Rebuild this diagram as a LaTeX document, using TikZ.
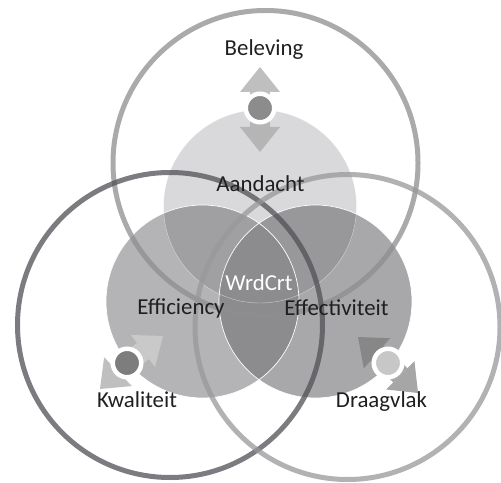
\documentclass[tikz,border=0pt]{standalone}
\usepackage{fontspec}
\setmainfont{Carlito}
\usetikzlibrary{arrows.meta}

\definecolor{aandacht}{RGB}{217,217,219}
\definecolor{efficiency}{RGB}{180,180,183}
\definecolor{effectiviteit}{RGB}{168,168,171}
\definecolor{topleft}{RGB}{160,160,163}
\definecolor{topright}{RGB}{152,152,155}
\definecolor{wrdcrt}{RGB}{140,140,143}
\definecolor{ringtop}{RGB}{142,142,145}
\definecolor{ringleft}{RGB}{80,80,86}
\definecolor{ringright}{RGB}{152,152,155}

\tikzset{
	ring/.style={line width=0.1cm, draw opacity=0.75},
	knob/.style={circle, draw=white, line width=0.09cm, minimum size=0.57cm, inner sep=0pt},
	blockarrow/.style={line width=0.4cm, -{Triangle[width=0.8cm,length=0.5cm,line width=0pt]}},
	vtext/.style={font=\fontsize{13}{15}\selectfont, text=black!88},
}

\begin{document}
\begin{tikzpicture}
		\useasboundingbox (0,0) rectangle (10.02,9.64);
		% the three filled circles and their overlaps
		\fill[aandacht] (5.20,5.51) circle[radius=1.93];
		\fill[efficiency] (4.05,3.61) circle[radius=1.93];
		\fill[effectiviteit] (6.31,3.61) circle[radius=1.93];
		\begin{scope}
			\clip (5.20,5.51) circle[radius=1.93];
			\fill[topleft] (4.05,3.61) circle[radius=1.93];
			\fill[topright] (6.31,3.61) circle[radius=1.93];
		\end{scope}
		\begin{scope}
			\clip (4.05,3.61) circle[radius=1.93];
			\fill[wrdcrt] (6.31,3.61) circle[radius=1.93];
		\end{scope}
		\draw[white, very thin, opacity=0.6] (5.20,5.51) circle[radius=1.93];
		\draw[white, thin] (4.05,3.61) circle[radius=1.93];
		\draw[white, thin] (6.31,3.61) circle[radius=1.93];
		
		% big rings
		\draw[ring, ringtop] (5.31,6.38) circle[radius=3.05];
		\draw[ring, ringleft] (3.40,3.14) circle[radius=3.05];
		\draw[ring, ringright] (6.95,3.10) circle[radius=3.05];
		
		% knobs with their arrows
		\coordinate (kbtop) at (5.20,7.48);
		\coordinate (uptop) at (5.20,8.30);
		\coordinate (downtop) at (5.20,6.60);
		\coordinate (kbleft) at (2.54,2.38);
		\coordinate (upleft) at (3.26,2.92);
		\coordinate (downleft) at (2.00,1.86);
		\coordinate (kbright) at (7.76,2.38);
		\coordinate (upright) at (7.16,2.90);
		\coordinate (downright) at (8.36,1.78);
		
		\draw[blockarrow, black!25] (kbtop) -- (uptop);
		\draw[blockarrow, black!29] (kbtop) -- (downtop);
		\draw[blockarrow, black!21] (kbleft) -- (upleft);
		\draw[blockarrow, black!25] (kbleft) -- (downleft);
		\draw[blockarrow, black!47] (kbright) -- (upright);
		\draw[blockarrow, black!35] (kbright) -- (downright);
		
		\node[knob, fill=black!45] (knobtop) at (kbtop) {};
		\node[knob, fill=black!51] (knobleft) at (kbleft) {};
		\node[knob, fill=black!22] (knobright) at (kbright) {};
		
		% labels
		\node[vtext] (beleving) at (5.28,8.64) {Beleving};
		\node[vtext] (aandachttxt) at (5.21,5.96) {Aandacht};
		\node[vtext, text=white] (wrdcrttxt) at (5.18,3.98) {WrdCrt};
		\node[vtext] (efficiencytxt) at (3.62,3.48) {Efficiency};
		\node[vtext] (effectiviteittxt) at (6.73,3.48) {Effectiviteit};
		\node[vtext] (kwaliteit) at (2.74,1.64) {Kwaliteit};
		\node[vtext] (draagvlak) at (7.63,1.60) {Draagvlak};
	\end{tikzpicture}
\end{document}
